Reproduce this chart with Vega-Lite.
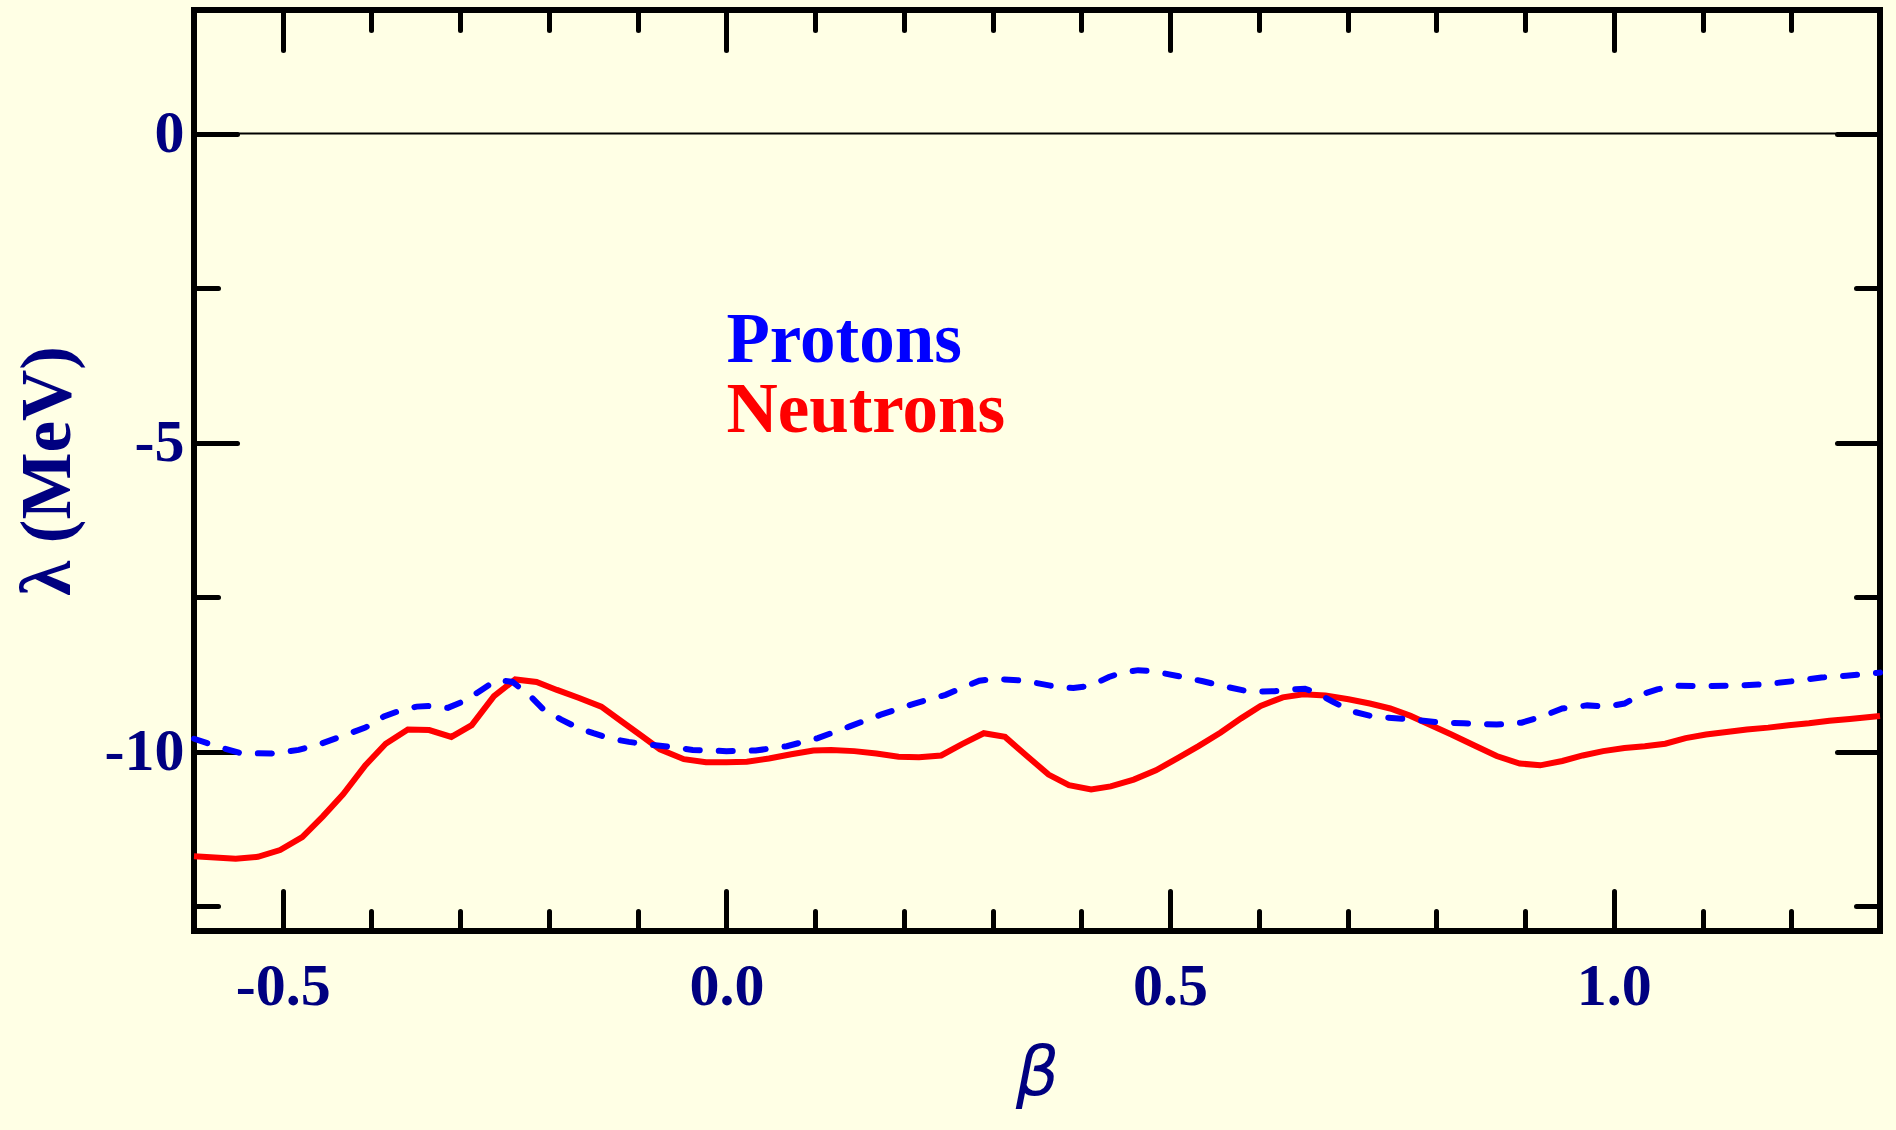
{
  "$schema": "https://vega.github.io/schema/vega-lite/v6.json",
  "autosize": {"type": "none"},
  "padding": {"left": 194, "top": 10, "right": 16, "bottom": 199},
  "width": 1686,
  "height": 921,
  "background": "#FFFFE5",
  "config": {
    "view": {"stroke": "black", "strokeWidth": 6, "fill": "#FFFFE5"},
    "axis": {
      "domain": false, "grid": false, "tickColor": "black", "tickWidth": 5, "tickCap": "round",
      "labelFont": "Liberation Serif", "labelFontWeight": "bold", "labelFontSize": 60, "labelColor": "#000080",
      "labelFlush": false, "labelOverlap": false,
      "titleFont": "Liberation Serif", "titleColor": "#000080", "titleFontWeight": "bold"
    }
  },
  "datasets": {
    "curves": [
      {"series": "Neutrons", "beta": -0.6, "lambda": -11.69},
      {"series": "Neutrons", "beta": -0.553, "lambda": -11.73},
      {"series": "Neutrons", "beta": -0.528, "lambda": -11.70},
      {"series": "Neutrons", "beta": -0.503, "lambda": -11.59},
      {"series": "Neutrons", "beta": -0.478, "lambda": -11.38},
      {"series": "Neutrons", "beta": -0.455, "lambda": -11.05},
      {"series": "Neutrons", "beta": -0.432, "lambda": -10.69},
      {"series": "Neutrons", "beta": -0.407, "lambda": -10.22},
      {"series": "Neutrons", "beta": -0.384, "lambda": -9.87},
      {"series": "Neutrons", "beta": -0.359, "lambda": -9.64},
      {"series": "Neutrons", "beta": -0.335, "lambda": -9.65},
      {"series": "Neutrons", "beta": -0.310, "lambda": -9.76},
      {"series": "Neutrons", "beta": -0.287, "lambda": -9.57},
      {"series": "Neutrons", "beta": -0.262, "lambda": -9.10},
      {"series": "Neutrons", "beta": -0.238, "lambda": -8.83},
      {"series": "Neutrons", "beta": -0.214, "lambda": -8.87},
      {"series": "Neutrons", "beta": -0.191, "lambda": -9.00},
      {"series": "Neutrons", "beta": -0.166, "lambda": -9.13},
      {"series": "Neutrons", "beta": -0.141, "lambda": -9.27},
      {"series": "Neutrons", "beta": -0.118, "lambda": -9.51},
      {"series": "Neutrons", "beta": -0.095, "lambda": -9.75},
      {"series": "Neutrons", "beta": -0.075, "lambda": -9.96},
      {"series": "Neutrons", "beta": -0.048, "lambda": -10.12},
      {"series": "Neutrons", "beta": -0.023, "lambda": -10.17},
      {"series": "Neutrons", "beta": 0.0, "lambda": -10.17},
      {"series": "Neutrons", "beta": 0.023, "lambda": -10.16},
      {"series": "Neutrons", "beta": 0.048, "lambda": -10.11},
      {"series": "Neutrons", "beta": 0.073, "lambda": -10.04},
      {"series": "Neutrons", "beta": 0.098, "lambda": -9.98},
      {"series": "Neutrons", "beta": 0.118, "lambda": -9.97},
      {"series": "Neutrons", "beta": 0.144, "lambda": -9.99},
      {"series": "Neutrons", "beta": 0.169, "lambda": -10.03},
      {"series": "Neutrons", "beta": 0.194, "lambda": -10.08},
      {"series": "Neutrons", "beta": 0.217, "lambda": -10.09},
      {"series": "Neutrons", "beta": 0.242, "lambda": -10.06},
      {"series": "Neutrons", "beta": 0.265, "lambda": -9.88},
      {"series": "Neutrons", "beta": 0.290, "lambda": -9.70},
      {"series": "Neutrons", "beta": 0.314, "lambda": -9.76},
      {"series": "Neutrons", "beta": 0.338, "lambda": -10.06},
      {"series": "Neutrons", "beta": 0.363, "lambda": -10.37},
      {"series": "Neutrons", "beta": 0.386, "lambda": -10.54},
      {"series": "Neutrons", "beta": 0.411, "lambda": -10.61},
      {"series": "Neutrons", "beta": 0.433, "lambda": -10.56},
      {"series": "Neutrons", "beta": 0.459, "lambda": -10.45},
      {"series": "Neutrons", "beta": 0.484, "lambda": -10.30},
      {"series": "Neutrons", "beta": 0.509, "lambda": -10.10},
      {"series": "Neutrons", "beta": 0.532, "lambda": -9.91},
      {"series": "Neutrons", "beta": 0.557, "lambda": -9.69},
      {"series": "Neutrons", "beta": 0.580, "lambda": -9.46},
      {"series": "Neutrons", "beta": 0.602, "lambda": -9.26},
      {"series": "Neutrons", "beta": 0.627, "lambda": -9.12},
      {"series": "Neutrons", "beta": 0.650, "lambda": -9.07},
      {"series": "Neutrons", "beta": 0.675, "lambda": -9.09},
      {"series": "Neutrons", "beta": 0.701, "lambda": -9.15},
      {"series": "Neutrons", "beta": 0.725, "lambda": -9.22},
      {"series": "Neutrons", "beta": 0.748, "lambda": -9.30},
      {"series": "Neutrons", "beta": 0.771, "lambda": -9.42},
      {"series": "Neutrons", "beta": 0.794, "lambda": -9.57},
      {"series": "Neutrons", "beta": 0.817, "lambda": -9.72},
      {"series": "Neutrons", "beta": 0.843, "lambda": -9.90},
      {"series": "Neutrons", "beta": 0.868, "lambda": -10.07},
      {"series": "Neutrons", "beta": 0.894, "lambda": -10.19},
      {"series": "Neutrons", "beta": 0.917, "lambda": -10.22},
      {"series": "Neutrons", "beta": 0.942, "lambda": -10.15},
      {"series": "Neutrons", "beta": 0.965, "lambda": -10.06},
      {"series": "Neutrons", "beta": 0.988, "lambda": -9.99},
      {"series": "Neutrons", "beta": 1.012, "lambda": -9.94},
      {"series": "Neutrons", "beta": 1.035, "lambda": -9.91},
      {"series": "Neutrons", "beta": 1.058, "lambda": -9.87},
      {"series": "Neutrons", "beta": 1.081, "lambda": -9.78},
      {"series": "Neutrons", "beta": 1.104, "lambda": -9.72},
      {"series": "Neutrons", "beta": 1.127, "lambda": -9.68},
      {"series": "Neutrons", "beta": 1.150, "lambda": -9.64},
      {"series": "Neutrons", "beta": 1.174, "lambda": -9.61},
      {"series": "Neutrons", "beta": 1.197, "lambda": -9.57},
      {"series": "Neutrons", "beta": 1.220, "lambda": -9.54},
      {"series": "Neutrons", "beta": 1.243, "lambda": -9.50},
      {"series": "Neutrons", "beta": 1.266, "lambda": -9.47},
      {"series": "Neutrons", "beta": 1.3, "lambda": -9.42},
      {"series": "Protons", "beta": -0.6, "lambda": -9.79},
      {"series": "Protons", "beta": -0.575, "lambda": -9.91},
      {"series": "Protons", "beta": -0.548, "lambda": -10.02},
      {"series": "Protons", "beta": -0.513, "lambda": -10.03},
      {"series": "Protons", "beta": -0.482, "lambda": -9.97},
      {"series": "Protons", "beta": -0.457, "lambda": -9.87},
      {"series": "Protons", "beta": -0.432, "lambda": -9.74},
      {"series": "Protons", "beta": -0.407, "lambda": -9.61},
      {"series": "Protons", "beta": -0.386, "lambda": -9.43},
      {"series": "Protons", "beta": -0.367, "lambda": -9.33},
      {"series": "Protons", "beta": -0.349, "lambda": -9.27},
      {"series": "Protons", "beta": -0.334, "lambda": -9.26},
      {"series": "Protons", "beta": -0.314, "lambda": -9.29},
      {"series": "Protons", "beta": -0.294, "lambda": -9.17},
      {"series": "Protons", "beta": -0.276, "lambda": -9.00},
      {"series": "Protons", "beta": -0.259, "lambda": -8.84},
      {"series": "Protons", "beta": -0.241, "lambda": -8.87},
      {"series": "Protons", "beta": -0.221, "lambda": -9.10},
      {"series": "Protons", "beta": -0.206, "lambda": -9.32},
      {"series": "Protons", "beta": -0.186, "lambda": -9.48},
      {"series": "Protons", "beta": -0.168, "lambda": -9.61},
      {"series": "Protons", "beta": -0.150, "lambda": -9.70},
      {"series": "Protons", "beta": -0.130, "lambda": -9.79},
      {"series": "Protons", "beta": -0.110, "lambda": -9.84},
      {"series": "Protons", "beta": -0.090, "lambda": -9.88},
      {"series": "Protons", "beta": -0.065, "lambda": -9.92},
      {"series": "Protons", "beta": -0.038, "lambda": -9.97},
      {"series": "Protons", "beta": 0.0, "lambda": -9.99},
      {"series": "Protons", "beta": 0.033, "lambda": -9.98},
      {"series": "Protons", "beta": 0.068, "lambda": -9.91},
      {"series": "Protons", "beta": 0.103, "lambda": -9.78},
      {"series": "Protons", "beta": 0.139, "lambda": -9.59},
      {"series": "Protons", "beta": 0.174, "lambda": -9.40},
      {"series": "Protons", "beta": 0.212, "lambda": -9.22},
      {"series": "Protons", "beta": 0.247, "lambda": -9.08},
      {"series": "Protons", "beta": 0.265, "lambda": -8.97},
      {"series": "Protons", "beta": 0.285, "lambda": -8.85},
      {"series": "Protons", "beta": 0.302, "lambda": -8.82},
      {"series": "Protons", "beta": 0.335, "lambda": -8.85},
      {"series": "Protons", "beta": 0.365, "lambda": -8.93},
      {"series": "Protons", "beta": 0.391, "lambda": -8.97},
      {"series": "Protons", "beta": 0.411, "lambda": -8.93},
      {"series": "Protons", "beta": 0.431, "lambda": -8.79},
      {"series": "Protons", "beta": 0.446, "lambda": -8.72},
      {"series": "Protons", "beta": 0.464, "lambda": -8.68},
      {"series": "Protons", "beta": 0.481, "lambda": -8.70},
      {"series": "Protons", "beta": 0.507, "lambda": -8.77},
      {"series": "Protons", "beta": 0.537, "lambda": -8.86},
      {"series": "Protons", "beta": 0.567, "lambda": -8.96},
      {"series": "Protons", "beta": 0.590, "lambda": -9.03},
      {"series": "Protons", "beta": 0.618, "lambda": -9.02},
      {"series": "Protons", "beta": 0.638, "lambda": -8.99},
      {"series": "Protons", "beta": 0.652, "lambda": -8.98},
      {"series": "Protons", "beta": 0.666, "lambda": -9.05},
      {"series": "Protons", "beta": 0.683, "lambda": -9.19},
      {"series": "Protons", "beta": 0.706, "lambda": -9.35},
      {"series": "Protons", "beta": 0.729, "lambda": -9.43},
      {"series": "Protons", "beta": 0.766, "lambda": -9.47},
      {"series": "Protons", "beta": 0.799, "lambda": -9.52},
      {"series": "Protons", "beta": 0.831, "lambda": -9.54},
      {"series": "Protons", "beta": 0.868, "lambda": -9.56},
      {"series": "Protons", "beta": 0.896, "lambda": -9.53},
      {"series": "Protons", "beta": 0.919, "lambda": -9.43},
      {"series": "Protons", "beta": 0.942, "lambda": -9.30},
      {"series": "Protons", "beta": 0.970, "lambda": -9.25},
      {"series": "Protons", "beta": 0.993, "lambda": -9.27},
      {"series": "Protons", "beta": 1.012, "lambda": -9.22},
      {"series": "Protons", "beta": 1.030, "lambda": -9.08},
      {"series": "Protons", "beta": 1.049, "lambda": -8.99},
      {"series": "Protons", "beta": 1.072, "lambda": -8.93},
      {"series": "Protons", "beta": 1.100, "lambda": -8.94},
      {"series": "Protons", "beta": 1.137, "lambda": -8.93},
      {"series": "Protons", "beta": 1.169, "lambda": -8.91},
      {"series": "Protons", "beta": 1.201, "lambda": -8.86},
      {"series": "Protons", "beta": 1.234, "lambda": -8.80},
      {"series": "Protons", "beta": 1.262, "lambda": -8.77},
      {"series": "Protons", "beta": 1.3, "lambda": -8.72}
    ]
  },
  "resolve": {"scale": {"x": "independent", "y": "independent"}},
  "layer": [
    {
      "data": {"name": "curves"},
      "transform": [{"filter": "datum.series == 'Neutrons'"}],
      "mark": {"type": "line", "color": "#FF0000", "strokeWidth": 6},
      "encoding": {
        "x": {"field": "beta", "type": "quantitative",
          "scale": {"domain": [-0.6, 1.3], "nice": false, "zero": false},
          "axis": {"orient": "bottom", "values": [-0.5, 0, 0.5, 1], "tickSize": -40, "labelPadding": 66,
            "labelExpr": "datum.value < 0 ? '-' + format(-datum.value, '.1f') : format(datum.value, '.1f')",
            "title": "β", "titleFont": "DejaVu Sans", "titleFontSize": 68, "titleFontStyle": "italic", "titleFontWeight": "normal", "titlePadding": 24}},
        "y": {"field": "lambda", "type": "quantitative",
          "scale": {"domain": [-12.9, 2], "nice": false, "zero": false},
          "axis": {"orient": "left", "values": [0, -5, -10], "tickSize": -43, "labelPadding": 53,
            "labelExpr": "datum.value < 0 ? '-' + format(-datum.value, 'd') : format(datum.value, 'd')",
            "title": "λ (MeV)", "titleFontSize": 71, "titlePadding": 20}}
      }
    },
    {
      "data": {"name": "curves"},
      "transform": [{"filter": "datum.series == 'Protons'"}],
      "mark": {"type": "line", "color": "#0000FF", "strokeWidth": 6, "strokeDash": [14, 19], "strokeCap": "round"},
      "encoding": {
        "x": {"field": "beta", "type": "quantitative",
          "scale": {"domain": [-0.6, 1.3], "nice": false, "zero": false},
          "axis": {"orient": "top", "values": [-0.5, 0, 0.5, 1], "tickSize": -40, "labels": false, "title": null}},
        "y": {"field": "lambda", "type": "quantitative",
          "scale": {"domain": [-12.9, 2], "nice": false, "zero": false},
          "axis": {"orient": "right", "values": [0, -5, -10], "tickSize": -43, "labels": false, "title": null}}
      }
    },
    {
      "data": {"values": [{}]},
      "mark": {"type": "rule", "color": "black", "strokeWidth": 2},
      "encoding": {
        "x": {"datum": -0.6, "type": "quantitative",
          "scale": {"domain": [-0.6, 1.3], "nice": false, "zero": false},
          "axis": {"orient": "bottom", "values": [-0.4, -0.3, -0.2, -0.1, 0.1, 0.2, 0.3, 0.4, 0.6, 0.7, 0.8, 0.9, 1.1, 1.2], "tickSize": -20, "labels": false, "title": null}},
        "x2": {"datum": 1.3},
        "y": {"datum": 0, "type": "quantitative",
          "scale": {"domain": [-12.9, 2], "nice": false, "zero": false},
          "axis": {"orient": "left", "values": [-2.5, -7.5, -12.5], "tickSize": -24, "labels": false, "title": null}}
      }
    },
    {
      "data": {"values": [{}]},
      "mark": {"type": "text", "text": "Protons", "align": "left", "baseline": "alphabetic", "font": "Liberation Serif", "fontWeight": "bold", "fontSize": 71, "color": "#0000FF"},
      "encoding": {
        "x": {"datum": 0, "type": "quantitative",
          "scale": {"domain": [-0.6, 1.3], "nice": false, "zero": false},
          "axis": {"orient": "top", "values": [-0.4, -0.3, -0.2, -0.1, 0.1, 0.2, 0.3, 0.4, 0.6, 0.7, 0.8, 0.9, 1.1, 1.2], "tickSize": -20, "labels": false, "title": null}},
        "y": {"datum": -3.7, "type": "quantitative",
          "scale": {"domain": [-12.9, 2], "nice": false, "zero": false},
          "axis": {"orient": "right", "values": [-2.5, -7.5, -12.5], "tickSize": -24, "labels": false, "title": null}}
      }
    },
    {
      "data": {"values": [{}]},
      "mark": {"type": "text", "text": "Neutrons", "align": "left", "baseline": "alphabetic", "font": "Liberation Serif", "fontWeight": "bold", "fontSize": 71, "color": "#FF0000"},
      "encoding": {
        "x": {"datum": 0, "type": "quantitative",
          "scale": {"domain": [-0.6, 1.3], "nice": false, "zero": false}, "axis": null},
        "y": {"datum": -4.83, "type": "quantitative",
          "scale": {"domain": [-12.9, 2], "nice": false, "zero": false}, "axis": null}
      }
    }
  ]
}
